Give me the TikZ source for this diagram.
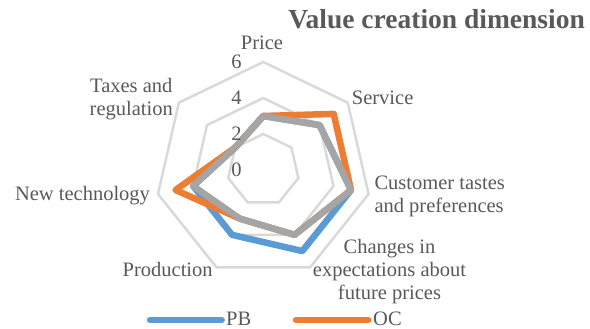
\documentclass[tikz,border=0pt]{standalone}
\usepackage{fontspec}
\setmainfont{Liberation Serif}
\usepackage{xcolor}
\definecolor{txtgray}{HTML}{595959}
\definecolor{gridgray}{HTML}{D9D9D9}
\definecolor{pbblue}{HTML}{5B9BD5}
\definecolor{ocorange}{HTML}{ED7D31}
\definecolor{thirdgray}{HTML}{A5A5A5}
\tikzstyle{ring} = [draw=gridgray, line width=2.5pt, line join=miter]
\tikzstyle{series} = [line width=6.5pt, line join=round]
\tikzstyle{lbl} = [text=txtgray, font=\fontsize{20.5}{23}\selectfont, inner sep=0pt, align=center]

\begin{document}
\begin{tikzpicture}[x=1pt,y=1pt]
\useasboundingbox (0,0) rectangle (590,329);

% Radar part, one unit = 18pt
\begin{scope}[shift={(263.3pt,159pt)}, x=18pt, y=18pt]
% Rings at 2, 4 and 6
\draw[ring] (90:2) -- (38.571:2) -- (-12.857:2) -- (-64.286:2) -- (-115.714:2) -- (-167.143:2) -- (141.429:2) -- cycle;
\draw[ring] (90:4) -- (38.571:4) -- (-12.857:4) -- (-64.286:4) -- (-115.714:4) -- (-167.143:4) -- (141.429:4) -- cycle;
\draw[ring] (90:6) -- (38.571:6) -- (-12.857:6) -- (-64.286:6) -- (-115.714:6) -- (-167.143:6) -- (141.429:6) -- cycle;

% Series PB, OC and the third one
\draw[series, pbblue] (90:3) -- (38.571:4) -- (-12.857:5) -- (-64.286:5) -- (-115.714:4) -- (-167.143:4) -- (141.429:2) -- cycle;
\draw[series, ocorange] (90:3) -- (38.571:5) -- (-12.857:5) -- (-64.286:4) -- (-115.714:3) -- (-167.143:5) -- (141.429:2) -- cycle;
\draw[series, thirdgray] (90:3) -- (38.571:4) -- (-12.857:5) -- (-64.286:4) -- (-115.714:3) -- (-167.143:4) -- (141.429:2) -- cycle;

% Scale values
\node[lbl, anchor=east] (tick0) at (-1.2,0) {0};
\node[lbl, anchor=east] (tick2) at (-1.2,2) {2};
\node[lbl, anchor=east] (tick4) at (-1.2,4) {4};
\node[lbl, anchor=east] (tick6) at (-1.2,6) {6};
\end{scope}

% Axis labels (base = last line)
\node[lbl, anchor=base] (price) at (262,279) {Price};
\node[lbl, anchor=base west] (service) at (351.7,224) {Service};
\node[lbl, anchor=base west, align=left] (tastes) at (374.3,116.7) {Customer tastes\\and preferences};
\node[lbl, anchor=base] (changes) at (389.5,29) {Changes in\\expectations about\\future prices};
\node[lbl, anchor=base] (production) at (167.7,52.3) {Production};
\node[lbl, anchor=base] (newtech) at (82.5,128.3) {New technology};
\node[lbl, anchor=base] (taxes) at (131.3,213) {Taxes and\\regulation};

% Title
\node[text=txtgray, font=\fontsize{27.5}{30}\selectfont\bfseries, inner sep=0pt, anchor=base east] (title) at (585,300.7) {Value creation dimension};

% Legend
\coordinate (pbA) at (150,9);
\coordinate (pbB) at (221.7,9);
\draw[series, pbblue, line cap=round] (pbA) -- (pbB);
\node[lbl, anchor=base west] (pb) at (226,3) {PB};
\coordinate (ocA) at (296,9);
\coordinate (ocB) at (368.3,9);
\draw[series, ocorange, line cap=round] (ocA) -- (ocB);
\node[lbl, anchor=base west] (oc) at (373,3) {OC};

\end{tikzpicture}
\end{document}
